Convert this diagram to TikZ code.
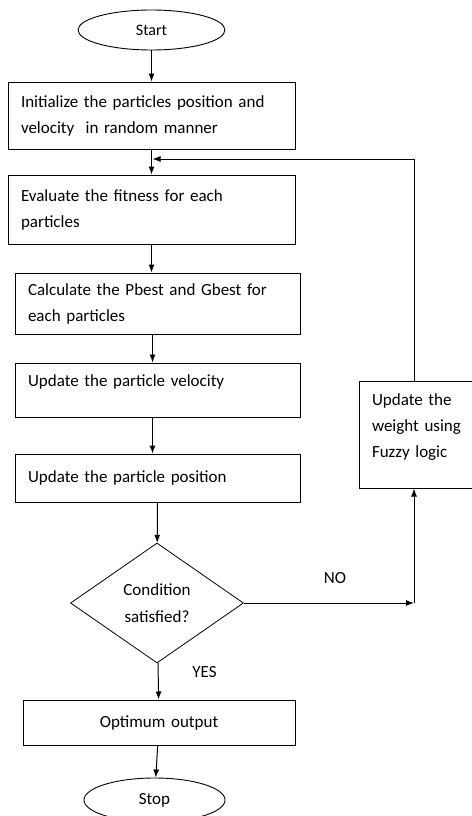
\documentclass[tikz,border=0pt]{standalone}
\usepackage{fontspec}
\setmainfont{Carlito}
\usetikzlibrary{arrows.meta, shapes.geometric, calc}

\tikzset{
  procbox/.style={draw, rectangle, line width=1pt, inner xsep=13pt, inner ysep=0pt, align=left, font=\fontsize{17}{26}\selectfont},
  termnode/.style={draw, ellipse, line width=0.9pt, inner sep=0pt},
  decision/.style={draw, diamond, line width=0.8pt, inner sep=0pt, align=center, font=\fontsize{17}{27}\selectfont},
  flow/.style={line width=1pt, -{Latex[length=8pt,width=6pt]}},
  toptext/.style={text depth=19pt},
  branchlabel/.style={font=\fontsize{17}{17}\selectfont}
}

\begin{document}
\begin{tikzpicture}[x=1pt, y=-1pt]
  \useasboundingbox (0,0) rectangle (471,816);

  % terminals
  \node[termnode, minimum width=147pt, minimum height=40pt, font=\fontsize{16}{16}\selectfont] (start) at (151.5,30) {Start};
  \node[termnode, minimum width=141pt, minimum height=44pt, font=\fontsize{17}{17}\selectfont] (stop) at (154.5,800) {Stop};

  % main steps
  \node[procbox, text width=261pt, minimum height=67pt] (init) at (151.5,115.5)
    {Initialize the particles position and\\velocity~ in random manner};
  \node[procbox, text width=261pt, minimum height=69pt] (eval) at (151.5,209.5)
    {Evaluate the fitness for each\\particles};
  \node[procbox, text width=259pt, minimum height=61pt] (calc) at (157.5,303.5)
    {Calculate the Pbest and Gbest for\\each particles};
  \node[procbox, toptext, text width=259pt, minimum height=54pt] (velo) at (157.5,390)
    {Update the particle velocity};
  \node[procbox, text width=259pt, minimum height=48pt] (pos) at (157.5,478)
    {Update the particle position};
  \node[decision, minimum width=173pt, minimum height=120pt] (cond) at (157,603)
    {Condition\\satisfied?};
  \node[procbox, align=center, text width=246pt, minimum height=45pt] (opt) at (159,722.5)
    {Optimum output};
  \node[procbox, text depth=69pt, text width=90pt, minimum height=107pt] (fuzzy) at (417,434.5)
    {Update the\\weight using\\Fuzzy logic};

  % branch labels
  \node[branchlabel] (nolbl) at (335,578) {NO};
  \node[branchlabel] (yeslbl) at (204.5,672) {YES};

  % connectors
  \coordinate (nocorner) at (414,603);
  \coordinate (loopin) at ($(init.south)!0.38!(eval.north)$);

  \draw[flow] (start) -- (init);
  \draw[flow] (init) -- (eval);
  \draw[flow] (eval.south) -- (eval.south |- calc.north);
  \draw[flow] ([xshift=-5pt]calc.south) -- ([xshift=-5pt]velo.north);
  \draw[flow] ([xshift=-5pt]velo.south) -- ([xshift=-5pt]pos.north);
  \draw[flow] (pos) -- (cond);
  \draw[flow] (cond) -- (opt);
  \draw[flow] (opt) -- (stop);

  \draw[flow] (cond.east) -- (nocorner);
  \draw[flow] (nocorner) -- (nocorner |- fuzzy.south);
  \draw[flow, shorten >=1pt] (nocorner |- fuzzy.north) |- (loopin);
\end{tikzpicture}
\end{document}
